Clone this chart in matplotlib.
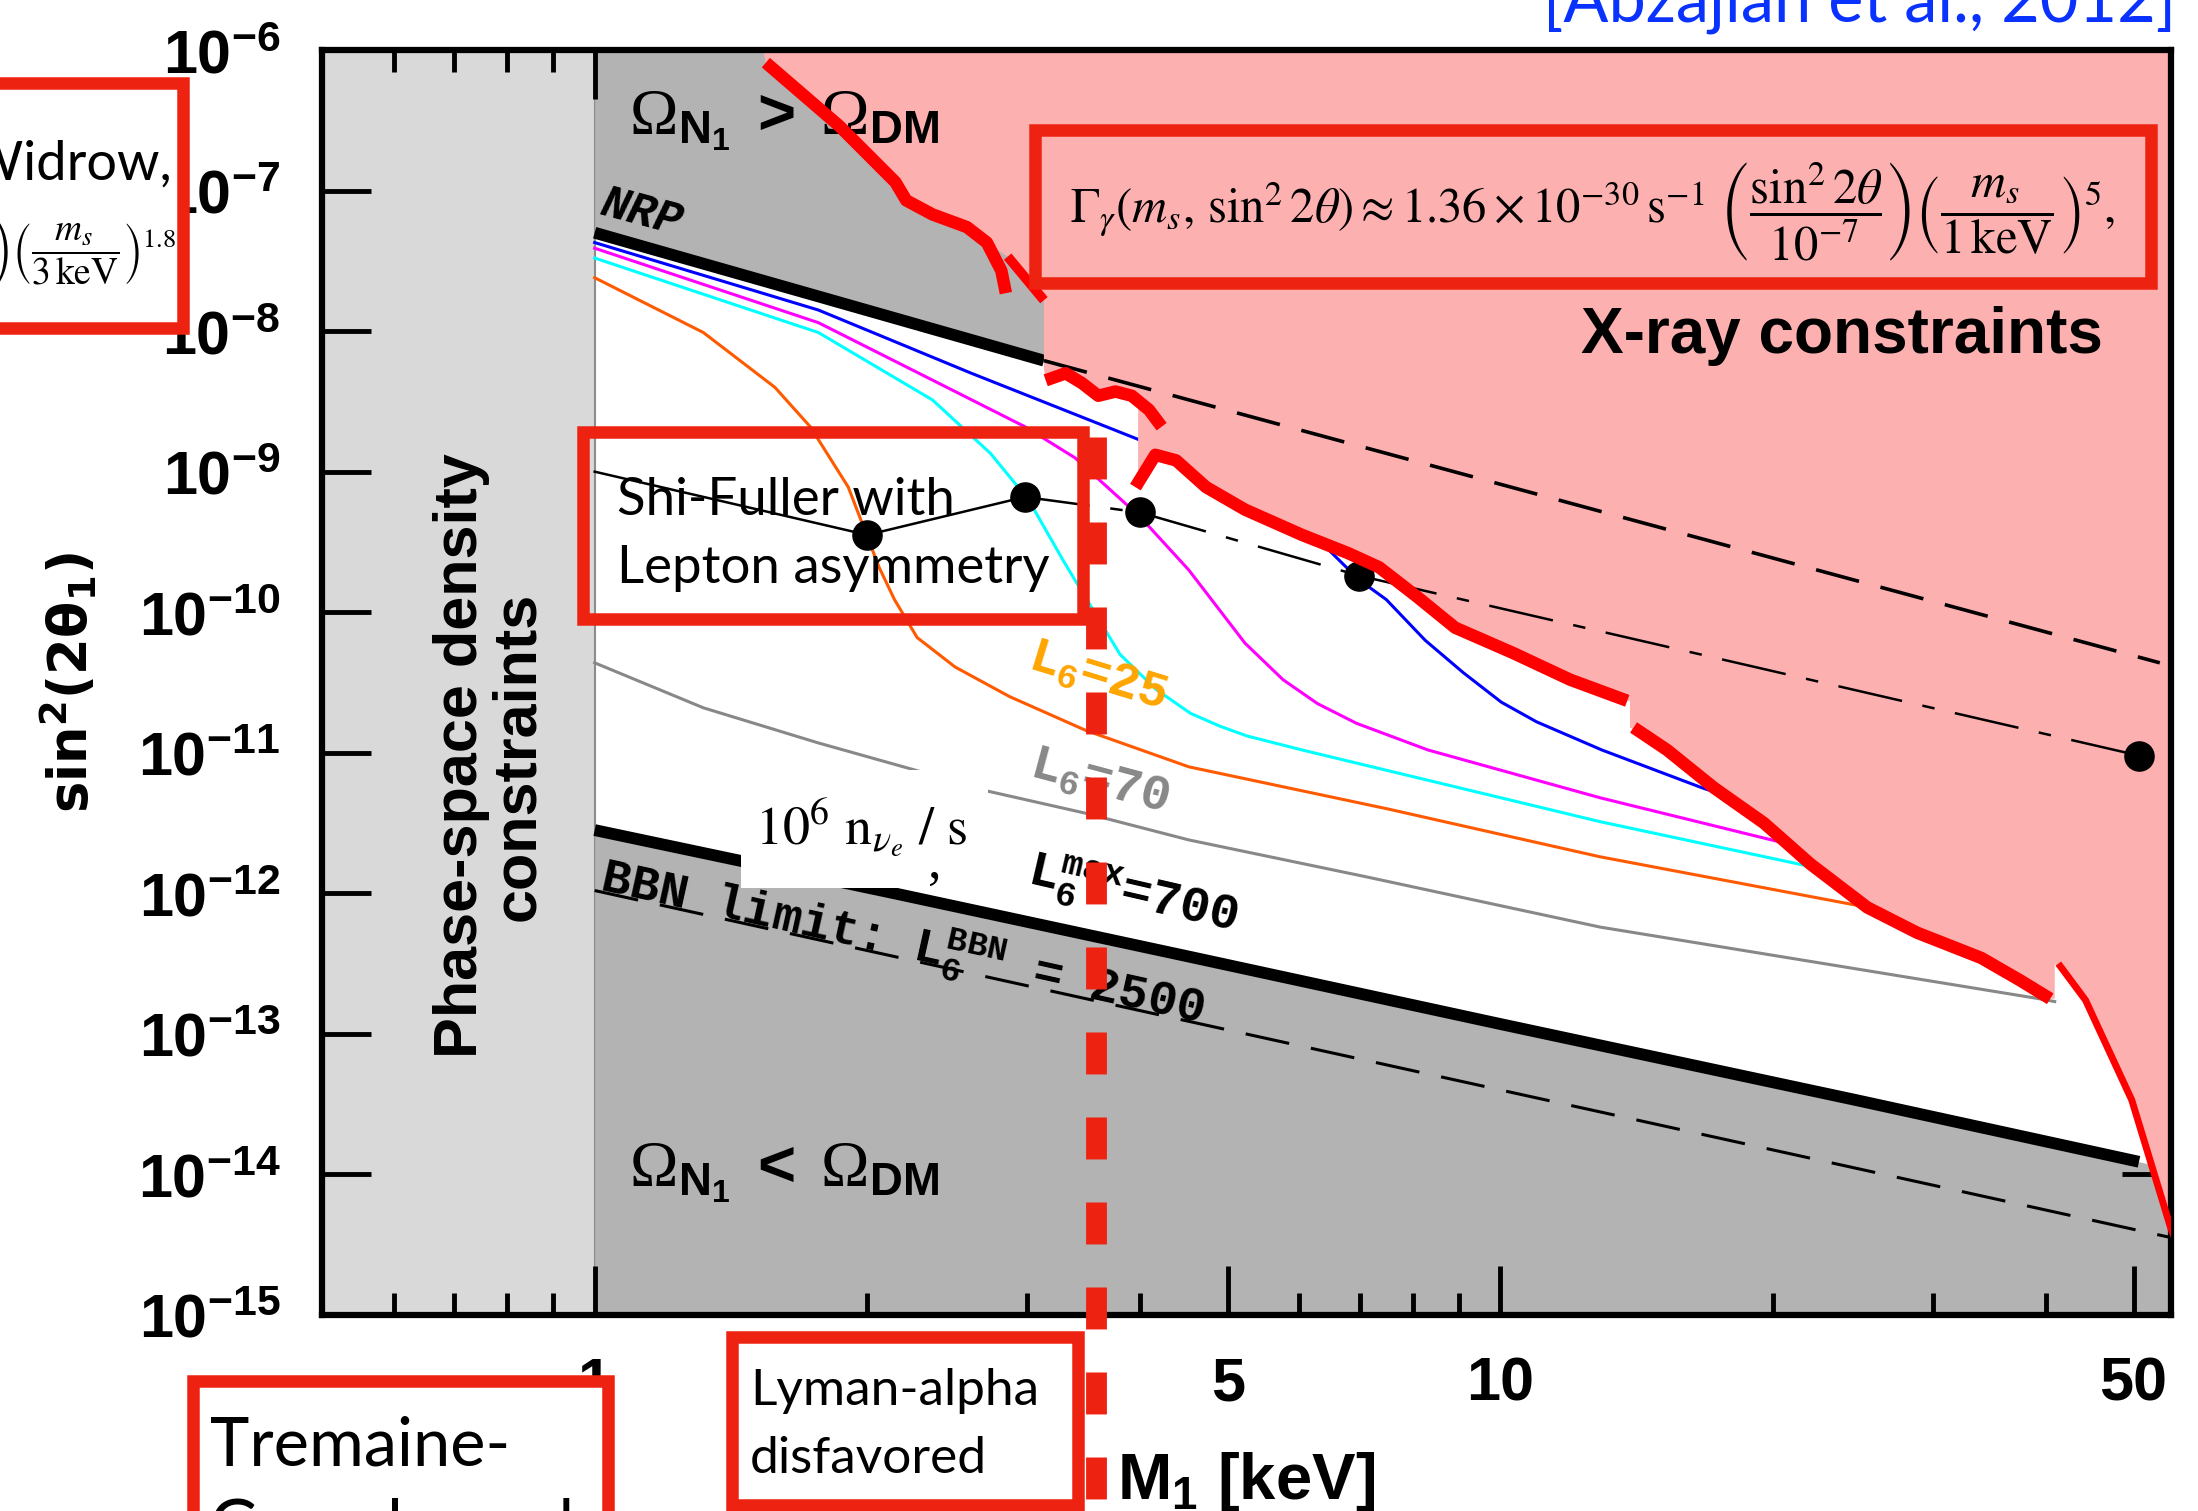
import matplotlib
matplotlib.use("Agg")
import matplotlib.pyplot as plt
import numpy as np
from matplotlib import font_manager
from matplotlib.patches import Rectangle, Polygon
from matplotlib.lines import Line2D
from matplotlib.ticker import NullFormatter, NullLocator
from matplotlib.transforms import blended_transform_factory

W, H, DPI = 2198, 1511, 100

_names = {f.name for f in font_manager.fontManager.ttflist}
NARROW = "Liberation Sans Narrow" if "Liberation Sans Narrow" in _names else "Liberation Sans"
MONO = "Liberation Mono"
SLIDE = "Lato"

plt.rcParams.update({
    "mathtext.fontset": "custom",
    "mathtext.rm": "Liberation Serif",
    "mathtext.it": "Liberation Serif:italic",
    "mathtext.bf": NARROW + ":bold",
    "mathtext.sf": NARROW,
    "mathtext.tt": MONO + ":bold",
    "lines.scale_dashes": False,
    "axes.linewidth": 4.5,
})

# --- values: log10(M1 / keV), log10(sin^2 2theta) ---
NRP_LOGM = [0.0, 0.496]
NRP_LOGS = [-7.30, -8.21]
NRP_EXT_LOGM = [0.496, 1.728]
NRP_EXT_LOGS = [-8.21, -10.36]
BBN_LOGM = [0.0, 0.331, 0.656, 1.0, 1.392, 1.705]
BBN_LOGS = [-11.55, -12.00, -12.45, -12.93, -13.47, -13.91]
BBN2500_LOGM = [0.0, 1.762]
BBN2500_LOGS = [-11.98, -14.48]

BLUE_LOGM = [0.0, 0.247, 0.416, 0.600, 0.700, 0.811, 0.844, 0.874, 0.917, 0.959, 1.001, 1.040, 1.112, 1.223, 1.260]
BLUE_LOGS = [-7.37, -7.85, -8.30, -8.77, -9.10, -9.56, -9.77, -9.91, -10.20, -10.43, -10.64, -10.78, -10.98, -11.25, -11.33]
MAGENTA_LOGM = [0.0, 0.247, 0.395, 0.475, 0.530, 0.602, 0.656, 0.718, 0.760, 0.798, 0.841, 0.920, 1.110, 1.312, 1.340]
MAGENTA_LOGS = [-7.41, -7.94, -8.42, -8.68, -8.90, -9.32, -9.70, -10.22, -10.48, -10.65, -10.79, -10.98, -11.32, -11.64, -11.68]
CYAN_LOGM = [0.0, 0.247, 0.373, 0.437, 0.479, 0.518, 0.580, 0.620, 0.658, 0.690, 0.720, 0.781, 1.110, 1.350, 1.380]
CYAN_LOGS = [-7.48, -8.01, -8.49, -8.87, -9.20, -9.64, -10.30, -10.55, -10.72, -10.81, -10.88, -10.98, -11.49, -11.82, -11.86]
ORANGE_LOGM = [0.0, 0.120, 0.199, 0.238, 0.280, 0.314, 0.331, 0.356, 0.398, 0.458, 0.542, 0.656, 0.876, 1.110, 1.414, 1.440]
ORANGE_LOGS = [-7.62, -8.01, -8.40, -8.68, -9.11, -9.68, -9.91, -10.18, -10.39, -10.60, -10.84, -11.10, -11.40, -11.74, -12.11, -12.14]
GRAY_LOGM = [0.0, 0.120, 0.247, 0.352, 0.432, 0.542, 0.656, 0.850, 1.110, 1.595, 1.612]
GRAY_LOGS = [-10.36, -10.68, -10.93, -11.12, -11.27, -11.43, -11.62, -11.88, -12.24, -12.75, -12.77]

SF_LOGM = [0.0, 0.301, 0.475, 0.602, 0.844, 1.705]
SF_LOGS = [-9.00, -9.45, -9.18, -9.29, -9.74, -11.02]

RED_A_LOGM = [0.189, 0.270, 0.332, 0.344, 0.373, 0.411, 0.433, 0.449, 0.454]
RED_A_LOGS = [-6.09, -6.54, -6.94, -7.07, -7.17, -7.26, -7.37, -7.57, -7.73]
RED_S_LOGM = [0.456, 0.496]
RED_S_LOGS = [-7.47, -7.78]
RED_B_LOGM = [0.498, 0.520, 0.538, 0.556, 0.575, 0.593, 0.612, 0.626]
RED_B_LOGS = [-8.35, -8.30, -8.37, -8.46, -8.43, -8.46, -8.56, -8.68]
RED_C_LOGM = [0.597, 0.619, 0.642, 0.675, 0.718, 0.781, 0.832, 0.866, 0.908, 0.950, 1.014, 1.077, 1.140]
RED_C_LOGS = [-9.11, -8.88, -8.92, -9.11, -9.27, -9.45, -9.58, -9.68, -9.89, -10.11, -10.29, -10.48, -10.63]
RED_D_LOGM = [1.147, 1.184, 1.236, 1.291, 1.342, 1.405, 1.460, 1.531, 1.574, 1.607]
RED_D_LOGS = [-10.82, -10.98, -11.25, -11.50, -11.79, -12.10, -12.28, -12.46, -12.62, -12.75]
RED_E_LOGM = [1.616, 1.646, 1.697, 1.740, 1.760]
RED_E_LOGS = [-12.50, -12.76, -13.47, -14.38, -14.70]

# edge of the pink X-ray excluded area, from top left to bottom right
XRAY_LOGM = ([0.186] + RED_A_LOGM[:7] + RED_S_LOGM + [0.496] + RED_B_LOGM[:6] + [0.600, 0.600]
             + RED_C_LOGM[1:] + [1.143, 1.143] + RED_D_LOGM[1:] + [1.612, 1.612] + RED_E_LOGM[1:])
XRAY_LOGS = ([-6.0] + RED_A_LOGS[:7] + RED_S_LOGS + [-8.27] + RED_B_LOGS[:6] + [-8.50, -9.08]
             + RED_C_LOGS[1:] + [-10.63, -10.82] + RED_D_LOGS[1:] + [-12.75, -12.50] + RED_E_LOGS[1:])

LYA_LOGM = 0.554

LIGHT, DARK, PINK = "#d9d9d9", "#b3b3b3", "#fdb0b0"
BOXRED = "#ee2211"


def P(lm, ls):
    return 10 ** np.asarray(lm, float), 10 ** np.asarray(ls, float)


def fpx(x, y):
    return x / W, 1 - y / H


fig = plt.figure(figsize=(W / DPI, H / DPI), dpi=DPI)
ax = fig.add_axes([322 / W, 1 - 1315 / H, 1849 / W, 1265 / H])
ax.set_xscale("log")
ax.set_yscale("log")
ax.set_xlim(0.5, 55)
ax.set_ylim(1e-15, 1e-6)

# regions
ax.axvspan(0.5, 1.0, color=LIGHT, lw=0, zorder=0.5)
ax.axvline(1.0, color="#8c8c8c", lw=1.5, zorder=0.6)
x, y = P(NRP_LOGM, NRP_LOGS)
ax.fill_between(x, y, 1e-6, color=DARK, lw=0, zorder=0.7)
slope = (BBN_LOGS[-1] - BBN_LOGS[-2]) / (BBN_LOGM[-1] - BBN_LOGM[-2])
x, y = P(BBN_LOGM + [1.80], BBN_LOGS + [BBN_LOGS[-1] + slope * (1.80 - BBN_LOGM[-1])])
ax.fill_between(x, 1e-15, y, color=DARK, lw=0, zorder=0.7)

# L6 curves
for lm, ls, c in [(GRAY_LOGM, GRAY_LOGS, "#888888"), (ORANGE_LOGM, ORANGE_LOGS, "#ff5a00"),
                  (CYAN_LOGM, CYAN_LOGS, "#00ffff"), (MAGENTA_LOGM, MAGENTA_LOGS, "#ff00ff"),
                  (BLUE_LOGM, BLUE_LOGS, "#0000ff")]:
    ax.plot(*P(lm, ls), color=c, lw=2.2, zorder=1)

ax.plot(*P(NRP_LOGM, NRP_LOGS), color="k", lw=8.5, solid_capstyle="butt", zorder=1.5)
ax.plot(*P(BBN_LOGM, BBN_LOGS), color="k", lw=8.5, solid_capstyle="butt", zorder=1.5)
ax.plot(*P(BBN2500_LOGM, BBN2500_LOGS), color="k", lw=2.2, dashes=(32, 16), zorder=1.5)

# X-ray region
px_, py_ = P(XRAY_LOGM + [1.80, 1.80], XRAY_LOGS + [-14.70, -6.0])
ax.add_patch(Polygon(np.column_stack([px_, py_]), closed=True, color=PINK, lw=0, zorder=2))
ax.plot(*P(NRP_EXT_LOGM, NRP_EXT_LOGS), color="k", lw=2.6, dashes=(32, 16), zorder=2.5)

# Shi-Fuller points
sx, sy = P(SF_LOGM, SF_LOGS)
ax.plot(sx[:3], sy[:3], color="k", lw=1.8, zorder=2.6)
ax.plot(sx[2:], sy[2:], color="k", lw=1.8, dashes=(47, 15, 9, 15), zorder=2.6)
ax.plot(sx[1:], sy[1:], "o", color="k", ms=21, zorder=2.7)

# in-plot labels
def lab(x, y, s, **kw):
    kw.setdefault("zorder", 2.8)
    ax.text(*fpx(x, y), s, transform=fig.transFigure, clip_on=False, **kw)

lab(629, 135, r"$\Omega_{\mathbf{N_1}}\ \mathbf{>}\ \Omega_{\mathbf{DM}}$", fontsize=47, va="baseline")
lab(629, 1187, r"$\Omega_{\mathbf{N_1}}\ \mathbf{<}\ \Omega_{\mathbf{DM}}$", fontsize=47, va="baseline")
lab(598, 214, "NRP", family=MONO, fontweight="bold", fontstyle="italic", fontsize=33,
    rotation=-15, rotation_mode="anchor", va="baseline")
lab(490, 756, "Phase-space density\nconstraints", family="Liberation Sans", fontweight="bold",
    fontsize=44, rotation=90, ha="center", va="center", multialignment="center", linespacing=1.0)
lab(1842, 353, "X-ray constraints", family=NARROW, fontweight="bold", fontsize=46,
    ha="center", va="baseline")
lab(1026, 668, r"$\mathtt{L_6}$=25", family=MONO, fontweight="bold", fontsize=36, color="#ffa500",
    rotation=-17, rotation_mode="anchor", va="baseline", zorder=3.2)
lab(1028, 776, r"$\mathtt{L_6}$=70", family=MONO, fontweight="bold", fontsize=36, color="#888888",
    rotation=-15, rotation_mode="anchor", va="baseline", zorder=3.2)
lab(1026, 884, r"$\mathtt{L_6^{max}}$=700", family=MONO, fontweight="bold", fontsize=36,
    rotation=-13, rotation_mode="anchor", va="baseline", zorder=3.2)
lab(598, 890, r"BBN limit: $\mathtt{L_6^{BBN}}$ = 2500", family=MONO, fontweight="bold", fontsize=35,
    rotation=-12.5, rotation_mode="anchor", va="baseline", zorder=3.2)

# red X-ray boundary
for lm, ls, w in [(RED_A_LOGM, RED_A_LOGS, 9), (RED_S_LOGM, RED_S_LOGS, 7), (RED_B_LOGM, RED_B_LOGS, 9),
                  (RED_C_LOGM, RED_C_LOGS, 9), (RED_D_LOGM, RED_D_LOGS, 9), (RED_E_LOGM, RED_E_LOGS, 5)]:
    ax.plot(*P(lm, ls), color="#ff0000", lw=w, solid_capstyle="butt", zorder=3)

# axes / ticks
ax.set_xticks([1, 5, 10, 50], ["1", "5", "10", "50"])
ax.set_xticks([0.6, 0.7, 0.8, 0.9, 2, 3, 4, 6, 7, 8, 9, 20, 30, 40], minor=True)
ax.xaxis.set_minor_formatter(NullFormatter())
yexp = np.arange(-15, -5)
ax.set_yticks(10.0 ** yexp, [rf"$\mathbf{{10^{{{e}}}}}$" for e in yexp])
ax.yaxis.set_minor_locator(NullLocator())
ax.tick_params(which="both", direction="in", top=True, right=True, width=3.5, labelsize=44, pad=30)
ax.tick_params(which="major", length=35)
ax.tick_params(which="minor", length=16)
for t in ax.get_xticklabels():
    t.set_fontfamily(NARROW)
    t.set_fontweight("bold")
ax.set_xlabel(r"$\mathbf{M_1}$ [keV]", family=NARROW, fontweight="bold", fontsize=47, labelpad=26)
ax.set_ylabel(r"$\mathbf{sin^2(2\theta_1)}$", fontsize=38, math_fontfamily="dejavusans")
ax.yaxis.set_label_coords(-0.121, 0.5)

# overlays on the figure
def box(x0, y0, x1, y1, fill, z=2):
    fx0, fy1 = fpx(x0, y1)
    fx1, fy0 = fpx(x1, y0)
    fig.add_artist(Rectangle((fx0, fy1), fx1 - fx0, fy0 - fy1, transform=fig.transFigure,
                             facecolor="white" if fill else "none", edgecolor=BOXRED, lw=9, zorder=z))

def ftext(x, y, s, **kw):
    kw.setdefault("zorder", 3)
    fig.text(*fpx(x, y), s, **kw)

# white patch with the n/s label
fig.add_artist(Rectangle(fpx(741, 888), 247 / W, 118 / H, transform=fig.transFigure,
                         facecolor="white", edgecolor="none", zorder=1))
ftext(755, 845, r"$10^6\ \mathrm{n}_{\nu_e}\ /\ \mathrm{s}$", fontsize=39, math_fontfamily="stix",
      va="baseline", zorder=1.1)
ftext(928, 878, ",", fontsize=39, family="Liberation Serif", va="baseline", zorder=1.1)

box(-60, 83, 183, 328, True)
ftext(172, 180, "Dodelson-Widrow,", family=SLIDE, fontsize=39, ha="right", va="baseline")
ftext(176, 252, r"$\left(\dfrac{\sin^2 2\theta}{3\times10^{-9}}\right)\left(\dfrac{m_s}{3\,\mathrm{keV}}\right)^{1.8}$",
      fontsize=27, math_fontfamily="stix", ha="right", va="center")

box(1035, 130, 2151, 283, False)
ftext(1593, 212, r"$\Gamma_\gamma(m_s,\,\sin^2 2\theta)\approx 1.36\times10^{-30}\,\mathrm{s}^{-1}\ "
      r"\left(\dfrac{\sin^2 2\theta}{10^{-7}}\right)\left(\dfrac{m_s}{1\,\mathrm{keV}}\right)^5,$",
      fontsize=35, math_fontfamily="stix", ha="center", va="center")

box(583, 432, 1083, 619, False)
ftext(617, 515, "Shi-Fuller with", family=SLIDE, fontsize=38, va="baseline")
ftext(617, 583, "Lepton asymmetry", family=SLIDE, fontsize=38, va="baseline")

box(732, 1337, 1078, 1505, True)
ftext(750, 1405, "Lyman-alpha", family=SLIDE, fontsize=37, va="baseline")
ftext(750, 1473, "disfavored", family=SLIDE, fontsize=37, va="baseline")

box(193, 1381, 608, 1570, True)
ftext(210, 1465, "Tremaine-", family=SLIDE, fontsize=48, va="baseline")
ftext(210, 1548, "Gunn bound", family=SLIDE, fontsize=48, va="baseline")

ftext(2176, 21, "[Abzajian et al., 2012]", family=SLIDE, fontsize=48, color="#0a32ff",
      ha="right", va="baseline")

# Lyman-alpha bound, dashed red line running below the axis
tr = blended_transform_factory(ax.transData, ax.transAxes)
fig.add_artist(Line2D([10 ** LYA_LOGM] * 2, [(1315 - 437) / 1265, (1315 - 1530) / 1265], transform=tr,
                      color=BOXRED, lw=15, dashes=(30.2, 31), solid_capstyle="butt",
                      dash_capstyle="butt", zorder=4))

fig.savefig("out.png", dpi=DPI)
